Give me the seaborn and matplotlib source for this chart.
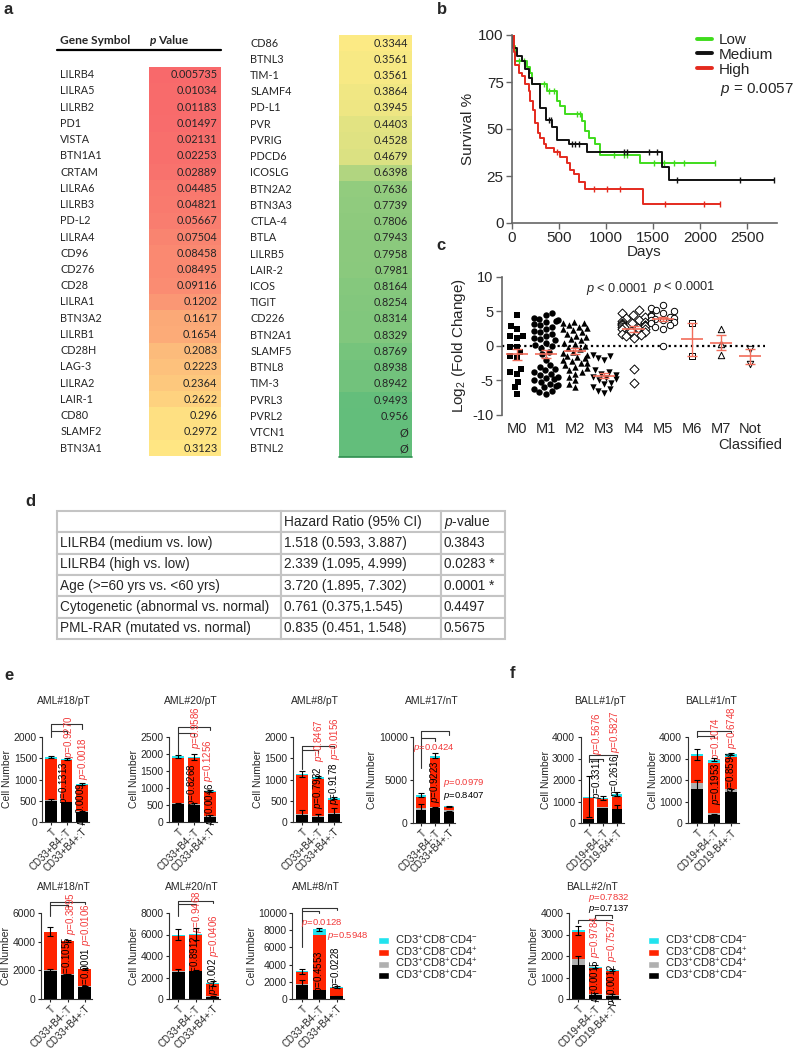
import numpy as np
import pandas as pd
import matplotlib
matplotlib.use('Agg')
from matplotlib import pyplot as plt
from matplotlib.colors import LinearSegmentedColormap
from matplotlib.lines import Line2D
from matplotlib.patches import Patch
import seaborn as sns

# ---------------- a : p values (log-rank) per checkpoint gene
genes_left = ['LILRB4', 'LILRA5', 'LILRB2', 'PD1', 'VISTA', 'BTN1A1', 'CRTAM', 'LILRA6',
              'LILRB3', 'PD-L2', 'LILRA4', 'CD96', 'CD276', 'CD28', 'LILRA1', 'BTN3A2',
              'LILRB1', 'CD28H', 'LAG-3', 'LILRA2', 'LAIR-1', 'CD80', 'SLAMF2', 'BTN3A1']
p_left = ['0.005735', '0.01034', '0.01183', '0.01497', '0.02131', '0.02253', '0.02889', '0.04485',
          '0.04821', '0.05667', '0.07504', '0.08458', '0.08495', '0.09116', '0.1202', '0.1617',
          '0.1654', '0.2083', '0.2223', '0.2364', '0.2622', '0.296', '0.2972', '0.3123']
genes_right = ['CD86', 'BTNL3', 'TIM-1', 'SLAMF4', 'PD-L1', 'PVR', 'PVRIG', 'PDCD6', 'ICOSLG',
               'BTN2A2', 'BTN3A3', 'CTLA-4', 'BTLA', 'LILRB5', 'LAIR-2', 'ICOS', 'TIGIT', 'CD226',
               'BTN2A1', 'SLAMF5', 'BTNL8', 'TIM-3', 'PVRL3', 'PVRL2', 'VTCN1', 'BTNL2']
p_right = ['0.3344', '0.3561', '0.3561', '0.3864', '0.3945', '0.4403', '0.4528', '0.4679', '0.6398',
           '0.7636', '0.7739', '0.7806', '0.7943', '0.7958', '0.7981', '0.8164', '0.8254', '0.8314',
           '0.8329', '0.8769', '0.8938', '0.8942', '0.9493', '0.956', 'Ø', 'Ø']

# ---------------- b : Kaplan-Meier (days, survival %), censored times
km_low_t = [0, 18, 35, 160, 195, 213, 372, 479, 514, 567, 745, 780, 816, 887, 940, 1365, 2163]
km_low_s = [100, 94, 86, 83, 80, 74, 70, 65, 62, 58, 54, 49, 45, 42, 36, 32, 32]
km_low_cens = [71, 124, 337, 390, 443, 691, 727, 1082, 1188, 1223, 1507, 1613, 1720, 1826, 2163]
km_med_t = [0, 11, 53, 106, 142, 177, 213, 301, 365, 426, 479, 603, 798, 1596, 1667, 2784]
km_med_s = [100, 93, 89, 86, 82, 77, 74, 61, 55, 51, 44, 42, 38, 30, 23, 23]
km_med_cens = [390, 415, 638, 674, 710, 1188, 1223, 1454, 1543, 1755, 2429, 2784]
km_high_t = [0, 18, 35, 71, 106, 142, 177, 195, 223, 248, 273, 301, 337, 365, 443, 514, 585,
             620, 656, 709, 780, 1394, 2216]
km_high_s = [100, 91, 84, 80, 78, 74, 70, 65, 60, 53, 48, 45, 42, 40, 38, 35, 32, 28, 26, 22,
             18, 10, 10]
km_high_cens = [479, 869, 1011, 1152, 1631, 2039, 2216]

# ---------------- c : LILRB4 log2 fold change per FAB subtype
c_groups = ['M0', 'M1', 'M2', 'M3', 'M4', 'M5', 'M6', 'M7', 'Not\nClassified']
c_m0 = [4.5, 2.9, 2.4, 1.4, 1.4, 1.2, -0.1, -0.1, -0.9, -1.5, -1.7, -3.4, -3.8, -4.1, -5.2, -6.0, -6.9]
c_m1 = [4.8, 4.5, 4.0, 3.9, 3.8, 3.6, 3.5, 3.2, 3.0, 2.8, 2.5, 2.2, 2.0, 1.8, 1.5, 1.2, 1.0, 0.8,
        0.5, 0.2, 0.0, -0.3, -0.8, -1.2, -2.0, -2.8, -3.0, -3.3, -3.5, -3.8, -4.0, -4.2, -4.5,
        -4.6, -4.8, -5.0, -5.2, -5.5, -5.6, -5.8, -6.0, -6.2, -6.5, -6.7, -6.9]
c_m2 = [3.5, 3.4, 3.3, 3.0, 2.8, 2.6, 2.5, 2.3, 2.0, 1.8, 1.5, 1.3, 1.0, 0.8, 0.5, 0.3, 0.0, -0.3,
        -0.5, -0.8, -1.0, -1.3, -1.5, -1.6, -1.8, -2.0, -2.2, -2.4, -2.5, -2.8, -3.0, -3.2, -3.5,
        -3.8, -4.0, -4.5, -5.0, -5.5, -6.0]
c_m3 = [-1.3, -1.5, -1.8, -2.0, -3.5, -3.8, -4.0, -4.2, -4.5, -4.6, -4.8, -5.0, -5.3, -5.5, -6.0,
        -6.3, -6.5, -6.8]
c_m4 = [5.2, 4.8, 4.5, 4.2, 4.0, 3.8, 3.6, 3.5, 3.4, 3.3, 3.2, 3.1, 3.0, 3.0, 2.9, 2.8, 2.7, 2.6,
        2.5, 2.4, 2.2, 2.0, 1.8, 1.6, 1.4, 1.2, -3.3, -5.3]
c_m5 = [6.0, 5.5, 5.2, 5.0, 4.8, 4.5, 4.3, 4.2, 4.0, 3.9, 3.8, 3.7, 3.5, 3.3, 3.0, 2.8, 2.5, 0.0]
c_m6 = [3.4, -1.5]
c_m7 = [2.5, 0.3, -1.35]
c_notc = [-0.4, -2.55]
c_values = [c_m0, c_m1, c_m2, c_m3, c_m4, c_m5, c_m6, c_m7, c_notc]

# ---------------- d : Cox regression
d_rows = ['LILRB4 (medium vs. low)', 'LILRB4 (high vs. low)', 'Age (>=60 yrs vs. <60 yrs)',
          'Cytogenetic (abnormal vs. normal)', 'PML-RAR (mutated vs. normal)']
d_hr = ['1.518 (0.593, 3.887)', '2.339 (1.095, 4.999)', '3.720 (1.895, 7.302)',
        '0.761 (0.375,1.545)', '0.835 (0.451, 1.548)']
d_p = ['0.3843', '0.0283 *', '0.0001 *', '0.4497', '0.5675']

# ---------------- e / f : T cell numbers, segments = [CD8+CD4-, CD8+CD4+, CD8-CD4+, CD8-CD4-]
e_labels = ['T', 'CD33+B4-:T', 'CD33+B4+:T']
f_labels = ['T', 'CD19+B4-:T', 'CD19-B4+:T']
seg_names = [r'CD3$^{+}$CD8$^{-}$CD4$^{-}$', r'CD3$^{+}$CD8$^{-}$CD4$^{+}$',
             r'CD3$^{+}$CD8$^{+}$CD4$^{+}$', r'CD3$^{+}$CD8$^{+}$CD4$^{-}$']

aml18_pt = [[500, 460, 235], [20, 10, 25], [960, 980, 610], [50, 30, 20]]
aml18_pt_err = [[40, 20, 30], [30, 30, 20]]
aml18_pt_p = ['0.9270', '0.1313', '0.0018', '0.0009']
aml20_pt = [[530, 510, 160], [20, 20, 30], [1340, 1340, 700], [40, 40, 20]]
aml20_pt_err = [[30, 60, 40], [40, 90, 20]]
aml20_pt_p = ['0.9586', '0.8268', '0.1256', '0.0046']
aml8_pt = [[160, 110, 190], [40, 30, 15], [900, 880, 320], [30, 40, 35]]
aml8_pt_err = [[130, 80, 140], [70, 30, 30]]
aml8_pt_p = ['0.8467', '0.7932', '0.0156', '0.9178']
aml17_nt = [[1560, 1760, 1290], [200, 110, 270], [1290, 5670, 315], [190, 270, 75]]
aml17_nt_err = [[600, 100, 150], [250, 300, 60]]
aml17_nt_p = ['0.0424', '0.9223', '0.0979', '0.8407']
aml18_nt = [[1950, 1700, 850], [50, 30, 40], [2650, 2320, 1210], [50, 0, 0]]
aml18_nt_err = [[120, 60, 80], [300, 50, 50]]
aml18_nt_p = ['0.3895', '0.1055', '0.0106', '0.0001']
aml20_nt = [[2500, 2600, 200], [100, 50, 100], [3300, 3350, 1100], [100, 50, 50]]
aml20_nt_err = [[300, 80, 80], [500, 600, 250]]
aml20_nt_p = ['0.9468', '0.8912', '0.0406', '0.002']
aml8_nt = [[1600, 1000, 300], [200, 50, 50], [1300, 6350, 950], [100, 700, 100]]
aml8_nt_err = [[600, 100, 60], [300, 150, 100]]
aml8_nt_p = ['0.0128', '0.5948', '0.4553', '0.0228']
ball1_pt = [[200, 720, 640], [0, 40, 0], [980, 340, 590], [50, 70, 110]]
ball1_pt_err = [[0, 0, 200], [950, 80, 80]]
ball1_pt_p = ['0.5676', '0.3311', '0.5827', '0.2616']
ball1_nt = [[1600, 350, 1450], [250, 100, 150], [1250, 2350, 1450], [100, 150, 150]]
ball1_nt_err = [[400, 80, 150], [250, 80, 60]]
ball1_nt_p = ['0.1074', '0.1953', '0.6748', '0.8594']
ball2_nt = [[1600, 200, 150], [250, 50, 50], [1250, 1200, 1100], [100, 50, 50]]
ball2_nt_err = [[400, 80, 80], [200, 80, 60]]
ball2_nt_p = ['0.7832', '0.7137', '0.9784', '0.0015', '0.7527', '0.0012']

# ================= style
sns.set_style('ticks')
plt.rcParams['font.family'] = ['Liberation Sans', 'DejaVu Sans']
plt.rcParams['mathtext.fontset'] = 'custom'
plt.rcParams['mathtext.rm'] = 'Liberation Sans'
plt.rcParams['mathtext.it'] = 'Liberation Sans:italic'
plt.rcParams['mathtext.bf'] = 'Liberation Sans:bold'
plt.rcParams['axes.unicode_minus'] = False

W, H = 795, 1050
fig = plt.figure(figsize=(W / 100, H / 100), dpi=100)


def fx(x):
    return x / W


def fy(y):
    return 1 - y / H


def px_axes(x0, y0, x1, y1):
    return fig.add_axes([x0 / W, 1 - y1 / H, (x1 - x0) / W, (y1 - y0) / H])


for lab, x, y in [('a', 8, 10), ('b', 442, 9), ('c', 441, 245), ('d', 30, 502),
                  ('e', 9, 675), ('f', 513, 673)]:
    fig.text(fx(x), fy(y), lab, weight='bold', size=12, ha='center', va='center')

# ================= a
all_p = [float(v) for v in p_left + p_right if v != 'Ø']
p_min, p_max = min(all_p), max(all_p)
p_mid = np.percentile(all_p, 50)
excel = LinearSegmentedColormap.from_list(
    'excel', [(0, '#F8696B'), ((p_mid - p_min) / (p_max - p_min), '#FFEB84'), (1, '#63BE7B')])
row_h = 16.23


def p_table(ax, genes, pvals):
    shade = [p_max if v == 'Ø' else float(v) for v in pvals]
    df = pd.DataFrame({'p': shade}, index=genes)
    sns.heatmap(df, ax=ax, cmap=excel, vmin=p_min, vmax=p_max, cbar=False,
                xticklabels=False, yticklabels=True)
    for i, v in enumerate(pvals):
        ax.text(0.95, i + 0.5, v, ha='right', va='center', fontsize=7.8, family='Lato')
    ax.set_yticklabels(genes, rotation=0, ha='left', fontsize=7.8, family='Lato')
    ax.tick_params(axis='y', length=0, pad=64)
    ax.set_xlabel('')
    ax.set_ylabel('')


ax_al = px_axes(149, 66.6, 221, 66.6 + len(genes_left) * row_h)
p_table(ax_al, genes_left, p_left)
ax_ar = px_axes(339, 34.9, 412, 34.9 + len(genes_right) * row_h)
p_table(ax_ar, genes_right, p_right)
ax_ar.axhline(len(genes_right), color='#2f8f4f', lw=1.2, clip_on=False)

fig.text(fx(60), fy(41), 'Gene Symbol', weight='bold', family='Lato', size=8.6, va='center')
fig.text(fx(150), fy(41), 'p', weight='bold', style='italic', family='Lato', size=8.6, va='center')
fig.text(fx(158), fy(41), 'Value', weight='bold', family='Lato', size=8.6, va='center')
fig.add_artist(Line2D([fx(57), fx(221)], [fy(50), fy(50)], lw=1.6, color='black',
                      transform=fig.transFigure))

# ================= b
ax_b = px_axes(512, 35, 777, 223)
km = [(km_low_t, km_low_s, km_low_cens, '#3fdc1c', 'Low'),
      (km_med_t, km_med_s, km_med_cens, '#111111', 'Medium'),
      (km_high_t, km_high_s, km_high_cens, '#e42a1e', 'High')]
for t, s, cens, col, lab in km:
    sns.lineplot(x=t, y=s, drawstyle='steps-post', color=col, lw=1.4, ax=ax_b,
                 label=lab, estimator=None)
    idx = np.searchsorted(t, cens, side='right') - 1
    ax_b.plot(cens, np.array(s)[idx], ls='none', marker='|', ms=5, mew=1, color=col)
ax_b.set_xlim(0, 2820)
ax_b.set_ylim(0, 100)
ax_b.set_xticks([0, 500, 1000, 1500, 2000, 2500])
ax_b.set_yticks([0, 25, 50, 75, 100])
sns.despine(ax=ax_b)
for sp in ['left', 'bottom']:
    ax_b.spines[sp].set_color('#666666')
    ax_b.spines[sp].set_linewidth(1.2)
ax_b.tick_params(labelsize=11, length=4, width=1, color='#666666', pad=2)
ax_b.set_ylabel('Survival %', fontsize=11, labelpad=2)
ax_b.set_xlabel('Days', fontsize=11, labelpad=0)
leg = ax_b.legend(loc='upper left', bbox_to_anchor=(fx(697), fy(33)), bbox_transform=fig.transFigure,
                  frameon=False, fontsize=11, handlelength=1.0, handletextpad=0.45,
                  labelspacing=0.05, borderpad=0, borderaxespad=0)
for ln in leg.get_lines():
    ln.set_linewidth(2.8)
fig.text(fx(720), fy(89), r'$p$ = 0.0057', fontsize=11, va='center')

# ================= c
ax_c = px_axes(502, 277, 765, 415)
markers = ['s', 'o', '^', 'v', 'D', 'o', 's', '^', 'v']
filled = [True, True, True, True, False, False, False, False, False]
mean_col = '#f26d5b'
for i, (g, vals) in enumerate(zip(c_groups, c_values)):
    sub = pd.DataFrame({'group': [g] * len(vals), 'v': vals})
    if filled[i]:
        sns.swarmplot(data=sub, x='group', y='v', order=c_groups, marker=markers[i], size=4.6,
                      color='black', linewidth=0, ax=ax_c)
    else:
        sns.swarmplot(data=sub, x='group', y='v', order=c_groups, marker=markers[i], size=4.6,
                      color='white', edgecolor='black', linewidth=0.7, ax=ax_c)
    m = np.mean(vals)
    sem = np.std(vals, ddof=1) / np.sqrt(len(vals))
    ax_c.hlines(m, i - 0.38, i + 0.38, color=mean_col, lw=1.2, zorder=5)
    ax_c.errorbar(i, m, yerr=sem, fmt='none', ecolor=mean_col, elinewidth=1, capsize=3.5,
                  capthick=1, zorder=5)
ax_c.axhline(0, color='black', ls=(0, (1, 1.5)), lw=1.6, zorder=0)
ax_c.set_xlim(-0.5, 8.5)
ax_c.set_ylim(-10, 10)
ax_c.set_yticks([-10, -5, 0, 5, 10])
sns.despine(ax=ax_c, bottom=True)
ax_c.spines['left'].set_color('#666666')
ax_c.spines['left'].set_linewidth(1.2)
ax_c.tick_params(axis='y', labelsize=10.5, length=4, width=1, color='#666666', pad=2)
ax_c.tick_params(axis='x', labelsize=10.5, length=0, pad=5)
ax_c.set_xlabel('')
ax_c.set_ylabel(r'Log$_{2}$ (Fold Change)', fontsize=11, labelpad=3)
ax_c.text(3.45, 8.3, r'$p$ < 0.0001', fontsize=9.2, ha='center', va='center')
ax_c.text(5.75, 8.5, r'$p$ < 0.0001', fontsize=9.2, ha='center', va='center')

# ================= d
ax_d = px_axes(57, 511, 505, 639)
ax_d.axis('off')
cells = [['', 'Hazard Ratio (95% CI)', r'$p$-value']] + [list(r) for r in zip(d_rows, d_hr, d_p)]
col_px = [224, 160, 64]
tab = ax_d.table(cellText=cells, colWidths=[c / sum(col_px) for c in col_px], cellLoc='left',
                 bbox=[0, 0, 1, 1])
tab.auto_set_font_size(False)
for (r, c), cell in tab.get_celld().items():
    cell.set_edgecolor('#c4c4c4')
    cell.set_linewidth(1.5)
    cell.PAD = 2.5 / col_px[c]
    cell.get_text().set_fontsize(9.8)

# ================= e / f
seg_colors = ['#000000', '#b0b0b0', '#ff2400', '#22e3ee']
red_txt = '#f23a3a'


def stacked(ax, seg, err, labels, ymax, yticks):
    cum = np.cumsum(np.array(seg, float), axis=0)
    for k in [3, 2, 1, 0]:
        sns.barplot(x=labels, y=cum[k], color=seg_colors[k], width=0.75, saturation=1,
                    errorbar=None, linewidth=0, ax=ax)
    pos = np.arange(3)
    for top, e in [(cum[0], err[0]), (cum[3], err[1])]:
        e = np.array(e, float)
        keep = e > 0
        ax.errorbar(pos[keep], top[keep], yerr=e[keep], fmt='none', ecolor='black',
                    elinewidth=0.8, capsize=2, capthick=0.8, zorder=4)
    ax.set_xlim(-0.55, 2.45)
    ax.set_ylim(0, ymax)
    ax.set_yticks(yticks)
    sns.despine(ax=ax)
    for sp in ['left', 'bottom']:
        ax.spines[sp].set_linewidth(0.8)
        ax.spines[sp].set_color('#333333')
    ax.tick_params(labelsize=7.5, length=2.5, width=0.8, pad=1.5)
    ax.tick_params(axis='x', labelsize=7, pad=1)
    plt.setp(ax.get_xticklabels(), rotation=45, ha='right', rotation_mode='anchor')
    ax.set_xlabel('')
    ax.set_ylabel('Cell Number', fontsize=7.5, labelpad=1)


def brackets(ax, specs):
    for x0, x1, y, drop_l, drop_r in specs:
        ax.plot([x0, x0, x1, x1], [y - drop_l, y, y, y - drop_r], color='#333333', lw=0.8,
                clip_on=False)


def notes(ax, pvals, specs):
    for pv, (x, y, kind, col) in zip(pvals, specs):
        c = red_txt if col == 'r' else 'black'
        s = r'$p$=' + pv
        if kind == 'h':
            ax.text(x, y, s, color=c, fontsize=6.8, ha='left', va='center', clip_on=False)
        else:
            ax.text(x, y, s, color=c, fontsize=7, rotation=90, ha='center',
                    va='bottom' if kind == 'vb' else 'top', clip_on=False)


# (data, err, p texts, labels, bar0 px, spacing px, top px, bottom px, ymax, yticks, title, brackets, notes)
panels = [
    (aml18_pt, aml18_pt_err, aml18_pt_p, e_labels, 51, 15.5, 737, 822, 2000,
     [0, 500, 1000, 1500, 2000], 'AML#18/pT',
     [(0, 2, 2300, 300, 100), (0, 1, 2150, 0, 80)],
     [(1.15, 1500, 'vb', 'r'), (0.85, 1430, 'vt', 'k'), (2.08, 980, 'vb', 'r'), (1.95, 940, 'vt', 'k')]),
    (aml20_pt, aml20_pt_err, aml20_pt_p, e_labels, 178, 16, 737, 822, 2500,
     [0, 500, 1000, 1500, 2000, 2500], 'AML#20/pT',
     [(0, 2, 2800, 800, 100), (0, 1, 2620, 0, 80)],
     [(1.12, 2150, 'vb', 'r'), (0.88, 1720, 'vt', 'k'), (1.9, 1180, 'vb', 'r'), (2.0, 1160, 'vt', 'k')]),
    (aml8_pt, aml8_pt_err, aml8_pt_p, e_labels, 302, 15.8, 737, 822, 2000,
     [0, 500, 1000, 1500, 2000], 'AML#8/pT',
     [(0, 2, 1800, 550, 70), (0, 1, 1700, 0, 70)],
     [(1.05, 1400, 'vb', 'r'), (1.0, 1300, 'vt', 'k'), (2.07, 1450, 'vb', 'r'), (2.0, 1400, 'vt', 'k')]),
    (aml17_nt, aml17_nt_err, aml17_nt_p, e_labels, 421, 14, 737, 823, 10000,
     [0, 5000, 10000], 'AML#17/nT',
     [(0, 2, 10660, 4300, 400), (0, 1, 9900, 0, 400)],
     [(-0.55, 8700, 'h', 'r'), (1.0, 7300, 'vt', 'k'), (1.55, 4600, 'h', 'r'), (1.55, 3150, 'h', 'k')]),
    (ball1_pt, ball1_pt_err, ball1_pt_p, f_labels, 588.5, 14.3, 737, 823, 4000,
     [0, 1000, 2000, 3000, 4000], 'BALL#1/pT',
     [(0, 2, 3180, 350, 100), (0, 1, 2980, 0, 100)],
     [(0.6, 3150, 'vb', 'r'), (0.6, 3100, 'vt', 'k'), (1.85, 3250, 'vb', 'r'), (1.85, 3200, 'vt', 'k')]),
    (ball1_nt, ball1_nt_err, ball1_nt_p, f_labels, 697, 17, 737, 823, 4000,
     [0, 1000, 2000, 3000, 4000], 'BALL#1/nT',
     [(0, 2, 4270, 250, 100), (0, 1, 4030, 0, 80)],
     [(1.1, 2940, 'vb', 'r'), (1.1, 2800, 'vt', 'k'), (2.05, 3450, 'vb', 'r'), (2.0, 3400, 'vt', 'k')]),
    (aml18_nt, aml18_nt_err, aml18_nt_p, e_labels, 50.3, 17.2, 913, 999, 6000,
     [0, 2000, 4000, 6000], 'AML#18/nT',
     [(0, 2, 6770, 1000, 150), (0, 1, 6540, 0, 120)],
     [(1.2, 4450, 'vb', 'r'), (0.97, 4400, 'vt', 'k'), (2.1, 3700, 'vb', 'r'), (2.05, 3600, 'vt', 'k')]),
    (aml20_nt, aml20_nt_err, aml20_nt_p, e_labels, 178.3, 17.2, 913, 999, 8000,
     [0, 2000, 4000, 6000, 8000], 'AML#20/nT',
     [(0, 2, 9100, 1400, 150), (0, 1, 8850, 0, 150)],
     [(1.1, 6100, 'vb', 'r'), (1.0, 5950, 'vt', 'k'), (2.05, 3950, 'vb', 'r'), (2.0, 3800, 'vt', 'k')]),
    (aml8_nt, aml8_nt_err, aml8_nt_p, e_labels, 302, 17.3, 913, 999, 10000,
     [0, 2000, 4000, 6000, 8000, 10000], 'AML#8/nT',
     [(0, 2, 10600, 4500, 200), (0, 1, 10200, 0, 200)],
     [(-0.05, 8800, 'h', 'r'), (1.45, 7300, 'h', 'r'), (1.0, 5700, 'vt', 'k'), (1.95, 6100, 'vt', 'k')]),
    (ball2_nt, ball2_nt_err, ball2_nt_p, f_labels, 578.3, 17, 913, 999, 4000,
     [0, 1000, 2000, 3000, 4000], 'BALL#2/nT',
     [(0, 2, 3690, 150, 0), (1, 2, 3920, 150, 150)],
     [(0.57, 4680, 'h', 'r'), (0.57, 4200, 'h', 'k'), (1.0, 1900, 'vb', 'r'), (1.0, 1870, 'vt', 'k'),
      (2.0, 1700, 'vb', 'r'), (2.0, 1680, 'vt', 'k')]),
]

for seg, err, pv, labels, b0, sp, top, bot, ymax, yt, title, br, nt in panels:
    ax = px_axes(b0 - 0.55 * sp, top, b0 + 2.45 * sp, bot)
    stacked(ax, seg, err, labels, ymax, yt)
    brackets(ax, br)
    notes(ax, pv, nt)
    fig.text(fx(b0 + 0.8 * sp), fy(701 if top < 800 else 887), title, fontsize=7.5,
             ha='center', va='center')

legend_handles = [Patch(facecolor=seg_colors[k]) for k in [3, 2, 1, 0]]
for lx in [378, 648]:
    fig.legend(legend_handles, seg_names, loc='upper left', bbox_to_anchor=(fx(lx), fy(934)),
               frameon=False, fontsize=8, handlelength=1.0, handleheight=0.6,
               handletextpad=0.5, labelspacing=-0.15, borderpad=0, borderaxespad=0)

fig.savefig('out.png', dpi=100)
